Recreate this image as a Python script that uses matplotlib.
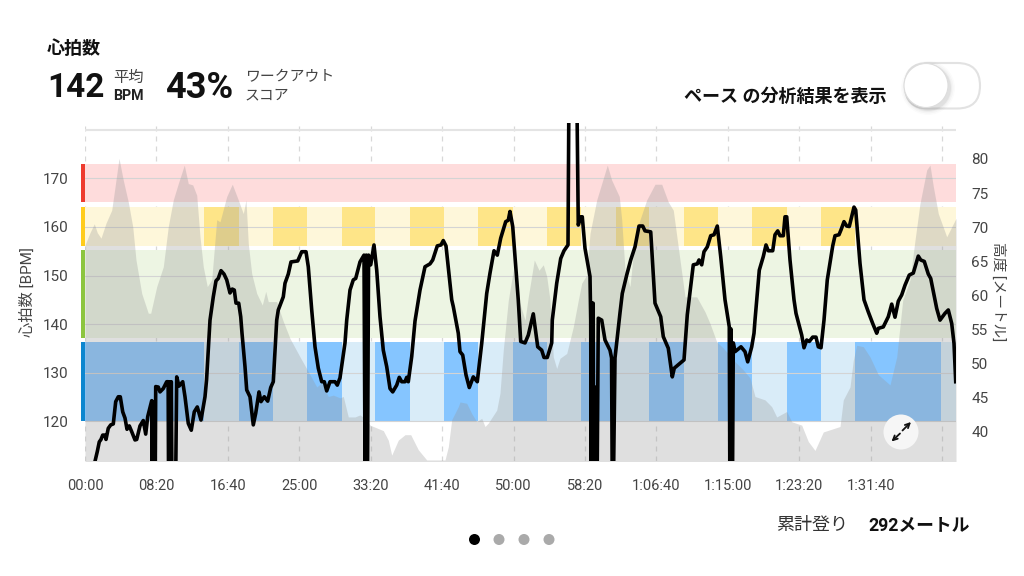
import matplotlib
matplotlib.use("Agg")
from matplotlib import pyplot as plt
from matplotlib.patches import Circle, FancyBboxPatch
from matplotlib.transforms import blended_transform_factory

plt.rcParams['font.family'] = ['Roboto', 'Noto Sans CJK JP', 'DejaVu Sans']

# heart rate: seconds, bpm (values under the axis are sensor dropouts)
hr_t = [70, 86, 100, 112, 124, 140, 147, 163, 180, 198, 215, 233, 247, 264, 280, 294, 310, 327, 350, 362,
        385, 408, 425, 439, 467, 470, 476, 482, 490, 495, 513, 525, 548, 572, 582, 586, 592, 598, 604, 610, 632, 642, 658, 684,
        700, 723, 744, 765, 786, 812, 840, 851, 875, 898, 917, 933, 952, 973, 992, 1015, 1031, 1045, 1057, 1076,
        1090, 1099, 1120, 1132, 1155, 1178, 1195, 1218, 1232, 1255, 1279, 1300, 1318, 1342, 1353, 1388, 1400, 1423, 1442, 1489,
        1517, 1547, 1563, 1587, 1610, 1633, 1657, 1675, 1692, 1715, 1750, 1766, 1785, 1820, 1832, 1855, 1878, 1895, 1925, 1953,
        1962, 1969, 1976, 1985, 2000, 2023, 2042, 2065, 2088, 2112, 2135, 2154, 2182, 2200, 2217, 2240, 2252, 2263, 2287, 2310,
        2345, 2380, 2415, 2434, 2466, 2492, 2508, 2527, 2567, 2578, 2613, 2625, 2644, 2667, 2690, 2718, 2746, 2777, 2793, 2812,
        2835, 2863, 2886, 2910, 2945, 2963, 2975, 2994, 3022, 3033, 3050, 3080, 3103, 3138, 3169, 3197, 3213, 3236, 3267, 3271,
        3302, 3330, 3353, 3381, 3388, 3442, 3453, 3469, 3481, 3500, 3535, 3540, 3544, 3548, 3553, 3557, 3562, 3572, 3578, 3583, 3593, 3617, 3640, 3675,
        3686, 3692, 3696, 3710, 3745, 3761, 3792, 3820, 3850, 3878, 3904, 3920, 3960, 3990, 4030, 4048, 4083, 4111, 4125, 4165,
        4193, 4216, 4258, 4286, 4298, 4317, 4333, 4356, 4380, 4403, 4426, 4450, 4480, 4510, 4515, 4521, 4527, 4531, 4538, 4550, 4592, 4620,
        4639, 4667, 4683, 4690, 4720, 4748, 4767, 4783, 4814, 4830, 4849, 4865, 4888, 4900, 4912, 4935, 4963, 4977, 5017, 5033,
        5052, 5070, 5094, 5117, 5133, 5152, 5173, 5196, 5234, 5250, 5278, 5292, 5313, 5332, 5350, 5383, 5395, 5425, 5453, 5483,
        5514, 5542, 5553, 5588, 5623, 5647, 5670, 5693, 5717, 5740, 5770, 5798, 5833, 5850, 5875, 5903, 5920, 5962, 5985, 6020,
        6043, 6067, 6083, 6095]
hr_val = [111.7, 113.7, 115.7, 116.2, 117.1, 117.1, 116.2, 118.5, 119.2, 119.4, 124.0, 125.0, 125.0, 121.9, 120.6, 118.3, 119.0, 117.8, 116.1, 116.2,
          119.0, 120.1, 117.3, 120.9, 124.2, 100, 124.0, 100, 100, 127.1, 127.0, 126.0, 126.7, 128.1, 128.1, 100, 128.1, 100, 128.1, 100, 100, 129.1, 127.2, 128.1,
          125.0, 119.5, 118.1, 121.9, 122.9, 120.2, 125.0, 128.5, 140.8, 145.6, 148.9, 149.4, 151.0, 150.3, 149.1, 146.4, 147.2, 147.0, 144.3, 144.3,
          141.5, 138.1, 131.2, 126.4, 125.0, 119.2, 121.6, 126.0, 124.0, 125.0, 124.1, 126.9, 128.1, 140.8, 142.9, 145.6, 148.4, 150.3, 152.8, 153.0,
          154.9, 154.9, 151.8, 142.9, 135.3, 130.9, 128.1, 128.1, 126.2, 128.1, 128.1, 127.4, 128.9, 136.1, 140.8, 147.0, 149.1, 149.4, 152.8, 154.2,
          100, 154.2, 100, 154.2, 152.2, 156.3, 151.1, 141.5, 134.6, 131.2, 126.7, 126.0, 127.4, 129.0, 128.1, 128.1, 129.0, 128.1, 133.3, 140.6,
          147.0, 151.8, 152.4, 153.2, 156.1, 156.3, 157.2, 156.1, 145.0, 143.6, 138.1, 134.3, 133.6, 129.5, 126.9, 129.1, 128.1, 136.0, 140.8, 146.3,
          150.5, 155.1, 154.2, 157.7, 161.1, 161.4, 163.2, 160.1, 149.1, 144.9, 136.4, 136.1, 137.7, 142.1, 135.3, 134.6, 133.1, 133.1, 136.1, 140.8,
          148.4, 153.5, 155.1, 156.3, 190, 190, 160.4, 162.1, 162.1, 155.6, 149.8, 140.8, 100, 144.3, 100, 144.3, 100, 100, 127.0, 100, 141.2, 140.8, 136.7, 134.6,
          133.0, 100, 100, 133.0, 142.3, 146.3, 150.1, 153.2, 155.9, 160.2, 160.2, 159.2, 159.0, 144.3, 141.5, 137.4, 135.0, 129.1, 130.9, 131.9,
          132.6, 141.9, 152.2, 152.4, 153.2, 152.2, 154.9, 155.9, 158.2, 158.4, 160.2, 153.9, 145.0, 139.4, 100, 139.0, 100, 100, 136.1, 134.3, 135.3, 134.3,
          132.2, 135.3, 138.1, 140.8, 151.1, 153.9, 156.3, 155.1, 155.1, 158.4, 159.2, 158.2, 158.2, 162.1, 162.1, 153.2, 145.0, 142.2, 137.7, 135.1,
          136.7, 136.4, 137.3, 137.3, 135.3, 135.1, 140.8, 149.1, 156.1, 158.2, 158.4, 159.4, 161.1, 160.2, 160.1, 164.1, 163.5, 152.5, 145.0, 142.5,
          140.1, 138.1, 139.1, 139.4, 141.5, 144.1, 141.4, 144.7, 146.0, 148.0, 150.1, 150.5, 154.0, 153.2, 152.9, 150.3, 149.4, 143.2, 140.8, 142.2,
          142.9, 140.1, 136.0, 128.1]

# elevation: seconds, metres
elev_t = [0, 35, 65, 86, 112, 147, 187, 210, 238, 268, 303, 334, 357, 397, 443, 460, 502, 548, 583, 618,
          653, 695, 723, 754, 782, 805, 828, 856, 887, 922, 945, 992, 1031, 1073, 1108, 1127, 1143, 1167, 1202, 1241,
          1265, 1283, 1342, 1365, 1388, 1435, 1505, 1575, 1622, 1657, 1703, 1738, 1785, 1808, 1843, 1890, 1925, 1972, 1995, 2088,
          2123, 2147, 2193, 2240, 2280, 2333, 2392, 2520, 2543, 2567, 2613, 2625, 2672, 2707, 2742, 2777, 2800, 2823, 2882, 2905,
          2928, 2963, 2998, 3022, 3080, 3103, 3145, 3178, 3208, 3232, 3255, 3278, 3302, 3325, 3372, 3418, 3453, 3477, 3512, 3535,
          3582, 3617, 3656, 3687, 3740, 3757, 3780, 3815, 3850, 3885, 3932, 3990, 4037, 4083, 4118, 4165, 4200, 4282, 4340, 4375,
          4422, 4468, 4550, 4608, 4655, 4690, 4760, 4807, 4842, 4912, 4947, 5017, 5063, 5110, 5168, 5285, 5308, 5355, 5378, 5402,
          5448, 5495, 5553, 5635, 5682, 5724, 5775, 5810, 5845, 5892, 5915, 5938, 5973, 6032, 6097]
elev_val = [67.4, 69.2, 70.5, 69.2, 68.4, 70.6, 72.5, 75.9, 80.1, 76.9, 73.7, 70.1, 65.2, 60.3, 57.4, 57.4, 61.3, 64.2, 70.1, 74.0,
            76.4, 79.1, 76.4, 76.2, 74.7, 68.6, 64.2, 61.3, 62.3, 71.1, 70.8, 74.5, 76.3, 74.0, 72.0, 74.0, 67.6, 63.2, 60.3, 58.6,
            60.6, 59.1, 59.1, 57.6, 56.2, 53.7, 51.0, 48.4, 46.6, 47.2, 45.2, 45.4, 45.0, 45.2, 42.2, 42.2, 42.5, 41.8, 41.0, 40.2,
            38.8, 36.6, 38.8, 39.6, 39.6, 37.4, 35.9, 35.9, 37.8, 41.8, 43.7, 44.4, 44.2, 42.7, 41.5, 42.0, 40.8, 41.3, 43.2, 45.7,
            52.0, 59.3, 63.7, 60.3, 56.4, 59.8, 65.2, 63.7, 64.5, 62.8, 59.3, 51.0, 49.3, 50.8, 51.5, 55.4, 59.3, 61.8, 63.0, 69.1,
            74.0, 76.4, 79.1, 76.9, 74.5, 71.1, 63.7, 61.3, 68.6, 71.1, 74.0, 76.3, 76.3, 73.7, 72.5, 65.2, 59.8, 59.8, 57.6, 55.9,
            53.2, 52.3, 50.3, 49.1, 47.9, 45.2, 44.7, 43.7, 42.2, 43.0, 41.5, 41.0, 38.6, 37.3, 40.0, 40.8, 44.7, 46.6, 50.5, 52.7,
            52.5, 51.0, 48.4, 46.9, 51.0, 59.3, 62.3, 68.1, 73.5, 78.4, 79.1, 76.0, 72.0, 68.6, 71.3]

# heart rate zones, top one first
zone_low = [165.15, 156.15, 137.2, 120]
zone_high = [173.05, 164.2, 155.25, 136.2]
zone_stripe = ['#ee3b2f', '#ffcc1c', '#8cc53f', '#0d86cf']
zone_fill = ['#fedcdc', '#fef7da', '#edf5e3', '#d9ecf8']

# interval blocks (seconds)
yellow_start = [833, 1314, 1797, 2275, 2751, 3236, 3715, 4193, 4669, 5152]
yellow_end = [1078, 1554, 2030, 2513, 2994, 3472, 3950, 4431, 4912, 5390]
blue_start = [0, 1078, 1554, 2030, 2513, 2994, 3472, 3950, 4431, 4912, 5390]
blue_end = [833, 1314, 1797, 2275, 2751, 3236, 3715, 4193, 4669, 5152, 5992]

x_ticks = [0, 500, 1000, 1500, 2000, 2500, 3000, 3500, 4000, 4500, 5000, 5500, 6000]
x_labels = ['00:00', '08:20', '16:40', '25:00', '33:20', '41:40', '50:00', '58:20',
            '1:06:40', '1:15:00', '1:23:20', '1:31:40', '']
hr_ticks = [120, 130, 140, 150, 160, 170]
elev_ticks = [40, 45, 50, 55, 60, 65, 70, 75, 80]

W, H = 1024, 576
fig = plt.figure(figsize=(W / 100, H / 100), dpi=100)
ax = fig.add_axes([85 / W, 1 - 460.5 / H, 871 / W, 337.5 / H])
ax.set_xlim(0, 6097)
ax.set_ylim(111.86, 181.44)

# bands, then grid on top of them
ax.set_axisbelow(False)
for t in x_ticks:
    ax.axvline(t, color='#d8d8d8', lw=0.9, ls=(0, (4, 4)), zorder=0)
stripe_tf = blended_transform_factory(ax.transAxes, ax.transData)
for i in range(4):
    ax.axhspan(zone_low[i], zone_high[i], color=zone_fill[i], lw=0, zorder=1)
    ax.add_patch(plt.Rectangle((-4 / 871, zone_low[i]), 4 / 871, zone_high[i] - zone_low[i], transform=stripe_tf,
                               color=zone_stripe[i], lw=0, clip_on=False, zorder=2))
for a, b in zip(yellow_start, yellow_end):
    ax.fill_between([a, b], zone_low[1], zone_high[1], color='#fee588', lw=0, zorder=1.5)
for a, b in zip(blue_start, blue_end):
    ax.fill_between([a, b], zone_low[3], zone_high[3], color='#85c5ff', lw=0, zorder=1.5)
for v in hr_ticks:
    ax.axhline(v, color='#d4d4d4', lw=0.8, zorder=2)
ax.axhline(180, color='#e4e4e4', lw=1.5, zorder=2)

for s in ax.spines.values():
    s.set_visible(False)
ax.set_xticks(x_ticks)
ax.set_xticklabels(x_labels, fontsize=10.5, color='#444444')
ax.set_yticks(hr_ticks)
ax.set_yticklabels([str(v) for v in hr_ticks], fontsize=11, color='#444444')
ax.tick_params(axis='both', length=0)
ax.tick_params(axis='x', pad=13)
ax.tick_params(axis='y', pad=12)
ax.set_zorder(1)

# elevation area on its own scale
ax2 = ax.twinx()
ax2.set_ylim(35.82, 85.27)
ax2.fill_between(elev_t, 30, elev_val, color=(150 / 255, 150 / 255, 150 / 255), alpha=0.3, lw=0)
for s in ax2.spines.values():
    s.set_visible(False)
ax2.set_yticks(elev_ticks)
ax2.set_yticklabels([str(v) for v in elev_ticks], fontsize=11, color='#444444')
ax2.tick_params(axis='y', length=0, pad=11)
ax2.patch.set_visible(False)
ax2.set_zorder(2)

# heart rate goes over everything
ax3 = ax.twinx()
ax3.set_ylim(ax.get_ylim())
ax3.plot(hr_t, hr_val, color='black', lw=2.6, solid_joinstyle='round')
ax3.axis('off')
ax3.set_zorder(3)

# everything around the chart, placed in pixels
ui = fig.add_axes([0, 0, 1, 1])
ui.set_xlim(0, W)
ui.set_ylim(H, 0)
ui.axis('off')
ui.set_zorder(5)

ui.text(47, 49.5, '心拍数', fontsize=13, fontweight='bold', color='#111111', va='center')
ui.text(47, 88, '142', fontsize=24, fontweight='bold', color='#111111', va='center')
ui.text(113, 77.5, '平均', fontsize=11, color='#444444', va='center')
ui.text(113, 96, 'BPM', fontsize=10.3, fontweight='bold', color='#222222', va='center')
ui.text(165, 88, '43%', fontsize=26, fontweight='bold', color='#111111', va='center')
ui.text(245, 77, 'ワークアウト', fontsize=10.7, color='#444444', va='center')
ui.text(245, 95.5, 'スコア', fontsize=10.7, color='#444444', va='center')
ui.text(886, 96.5, 'ペース の分析結果を表示', fontsize=13, fontweight='bold', color='#111111', va='center', ha='right')

ui.text(27, 292, '心拍数 [BPM]', fontsize=11, color='#444444', rotation=90, va='center', ha='center')
ui.text(998, 292, '高度 [メートル]', fontsize=10.5, color='#444444', rotation=270, va='center', ha='center')

ui.text(776, 525, '累計登り', fontsize=13, color='#333333', va='center')
ui.text(868, 525, '292メートル', fontsize=12.8, fontweight='bold', color='#111111', va='center')

# toggle switch
ui.add_patch(FancyBboxPatch((905, 63), 75, 45.5, boxstyle='round,pad=0,rounding_size=22.7', fc='white', ec='#e2e2e2', lw=1.5))
for r, a in [(27, 0.015), (25.5, 0.025), (24, 0.03), (23, 0.05)]:
    ui.add_patch(Circle((928, 88), r, fc='black', ec='none', alpha=a))
ui.add_patch(Circle((926, 85.5), 22, fc='white', ec='#dddddd', lw=0.8))

# expand button
ui.add_patch(Circle((901, 432), 17.5, fc='#f6f6f6', ec='none'))
ui.annotate('', xy=(911, 422), xytext=(902.5, 430.5), arrowprops=dict(arrowstyle='->', color='#111111', lw=1.3, mutation_scale=8, shrinkA=0, shrinkB=0))
ui.annotate('', xy=(891.5, 441.5), xytext=(900, 433.5), arrowprops=dict(arrowstyle='->', color='#111111', lw=1.3, mutation_scale=8, shrinkA=0, shrinkB=0))

# page dots
for x, c in zip([474.5, 499, 524, 549], ['black', '#aaaaaa', '#aaaaaa', '#aaaaaa']):
    ui.add_patch(Circle((x, 539.5), 5.5, fc=c, ec='none'))

fig.savefig('out.png', dpi=100, facecolor='white')
